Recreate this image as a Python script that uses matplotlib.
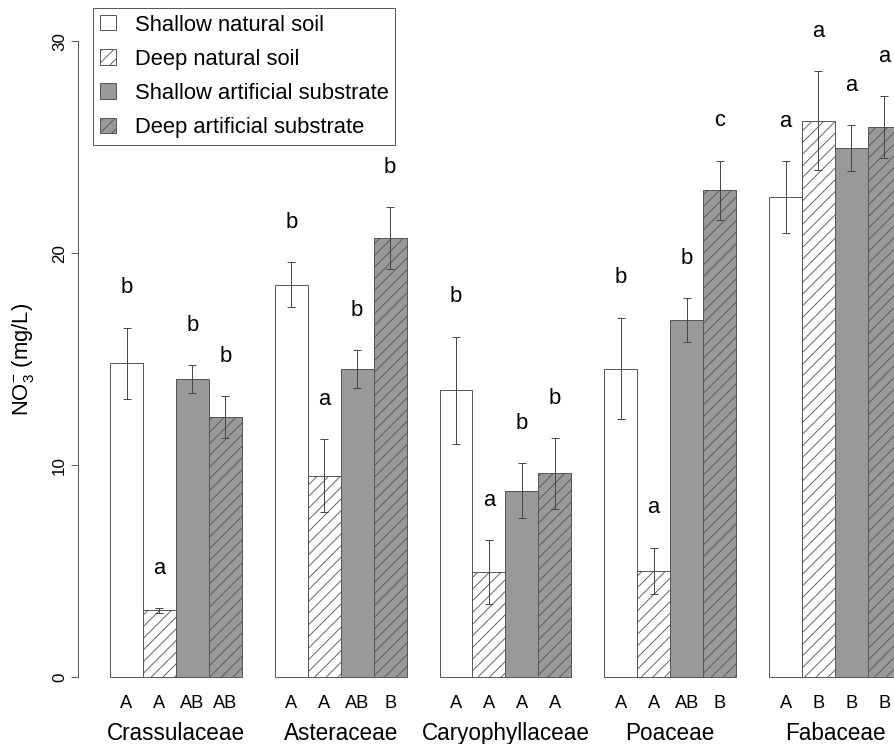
import matplotlib
matplotlib.use('Agg')
import matplotlib.pyplot as plt
import numpy as np

# ---------------- data ----------------
families = ['Crassulaceae', 'Asteraceae', 'Caryophyllaceae', 'Poaceae', 'Fabaceae']
series = ['Shallow natural soil', 'Deep natural soil',
          'Shallow artificial substrate', 'Deep artificial substrate']

shallow_natural = [14.80, 18.52, 13.54, 14.56, 22.64]
deep_natural = [3.15, 9.51, 4.97, 5.02, 26.26]
shallow_artificial = [14.05, 14.53, 8.79, 16.84, 24.95]
deep_artificial = [12.26, 20.71, 9.61, 22.97, 25.94]

se_shallow_natural = [1.69, 1.07, 2.52, 2.40, 1.69]
se_deep_natural = [0.11, 1.72, 1.50, 1.09, 2.32]
se_shallow_artificial = [0.66, 0.90, 1.30, 1.04, 1.08]
se_deep_artificial = [0.99, 1.47, 1.67, 1.40, 1.47]

letters_upper = [['b', 'a', 'b', 'b'],
                 ['b', 'a', 'b', 'b'],
                 ['b', 'a', 'b', 'b'],
                 ['b', 'a', 'b', 'c'],
                 ['a', 'a', 'a', 'a']]
letters_lower = [['A', 'A', 'AB', 'AB'],
                 ['A', 'A', 'AB', 'B'],
                 ['A', 'A', 'A', 'A'],
                 ['A', 'A', 'AB', 'B'],
                 ['A', 'B', 'B', 'B']]
yticks = [0, 10, 20, 30]
ylabel = r'NO$_3^{-}$ (mg/L)'

# ---------------- style ----------------
plt.rcParams['font.family'] = ['Liberation Sans', 'DejaVu Sans']
plt.rcParams['mathtext.fontset'] = 'custom'
plt.rcParams['mathtext.rm'] = 'Liberation Sans'
plt.rcParams['mathtext.it'] = 'Liberation Sans:italic'
plt.rcParams['mathtext.bf'] = 'Liberation Sans:bold'
plt.rcParams['mathtext.default'] = 'regular'
plt.rcParams['hatch.linewidth'] = 0.9

DPI = 70
FW, FH = 894.5, 744.5
EDGE = '#555555'
ERR = '#444444'
LW = 1.0
fills = ['white', 'white', '#999999', '#999999']
hatches = [None, '//', None, '//']

values = [shallow_natural, deep_natural, shallow_artificial, deep_artificial]
errors = [se_shallow_natural, se_deep_natural, se_shallow_artificial, se_deep_artificial]

fig = plt.figure(figsize=(FW / DPI, FH / DPI), dpi=DPI)
# axes region (pixels): x 78.4 .. 932.5 (extends past right edge), y 16.3 .. 703.1
ax = fig.add_axes([78.4 / FW, 1 - 703.1 / FH, (932.5 - 78.4) / FW, (703.1 - 16.3) / FH])
ax.set_xlim(0.04, 25.96)
ax.set_ylim(-1.2, 31.2)

ngroups = len(families)
group_start = 1 + 5 * np.arange(ngroups)

for j in range(4):
    x = group_start + j
    v = np.array(values[j])
    e = np.array(errors[j])
    ax.bar(x, v, width=1.0, align='edge', color=fills[j], edgecolor=EDGE,
           linewidth=LW, hatch=hatches[j], label=series[j], zorder=2)
    ax.errorbar(x + 0.5, v, yerr=e, fmt='none', ecolor=ERR, elinewidth=LW,
                capsize=4, capthick=LW, zorder=3)
    for g in range(ngroups):
        ax.text(x[g] + 0.5, v[g] + e[g] + 1.64, letters_upper[g][j],
                ha='center', va='baseline', fontsize=22.6, clip_on=False)
        ax.text(x[g] + 0.5, -1.42, letters_lower[g][j],
                ha='center', va='baseline', fontsize=18.8, clip_on=False)

for g in range(ngroups):
    ax.text(group_start[g] + 2, -2.96, families[g], ha='center', va='baseline',
            fontsize=23.2, clip_on=False)

# axes styling
for s in ['top', 'right', 'bottom']:
    ax.spines[s].set_visible(False)
ax.spines['left'].set_bounds(0, 30)
ax.spines['left'].set_color(EDGE)
ax.spines['left'].set_linewidth(LW)
ax.set_xticks([])
ax.set_yticks(yticks)
ax.tick_params(axis='y', length=7.2, width=LW, color=EDGE, pad=4.5,
               labelsize=17.5, labelrotation=90)
for lbl in ax.get_yticklabels():
    lbl.set_va('center')

fig.text(23 / FW, 1 - 359.7 / FH, ylabel, rotation=90, ha='center', va='center',
         fontsize=22.6)

leg = ax.legend(loc='upper left', bbox_to_anchor=(93.3 / FW, 1 - 8.3 / FH),
                bbox_transform=fig.transFigure, borderaxespad=0, borderpad=0.3,
                labelspacing=0.6, handlelength=0.73, handleheight=0.7,
                handletextpad=0.86, fontsize=22.6, frameon=True, fancybox=False,
                edgecolor=EDGE, framealpha=1)
leg.get_frame().set_linewidth(LW)

fig.savefig('out.png', dpi=DPI)
